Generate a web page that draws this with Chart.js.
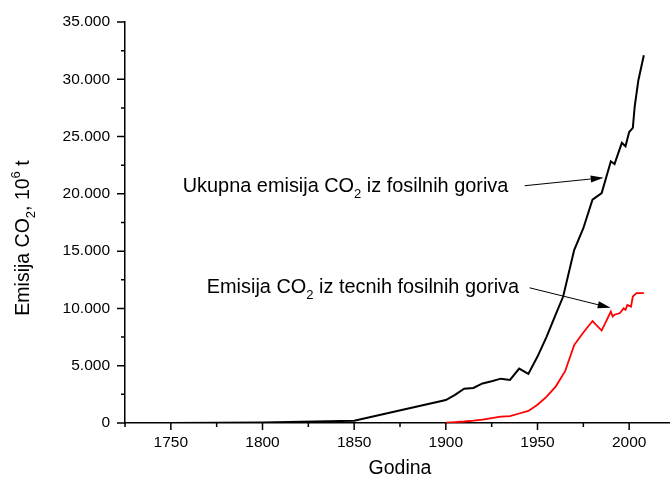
<!DOCTYPE html>
<html>
<head>
<meta charset="utf-8">
<script src="https://cdn.jsdelivr.net/npm/chart.js@4"></script>
<style>
  html,body{margin:0;padding:0;background:#fff;overflow:hidden;}
  #wrap{width:680px;height:481px;}
</style>
</head>
<body>
<div id="wrap"><canvas id="co2"></canvas></div>
<script>
// ukupna emisija (sva fosilna goriva), 10^6 t
const totalYears=[1750,1800,1850,1900,1905,1910,1915,1920,1925,1930,1935,1940,1945,1950,1955,1960,1964,1970,1975,1980,1985,1990,1992,1996,1998,2000,2002,2003,2005,2008];
const totalVals =[3,40,200,2000,2450,3000,3060,3450,3640,3870,3760,4750,4280,5800,7540,9500,11040,15100,17000,19500,20070,22840,22600,24450,24150,25400,25760,27600,29900,32100];

// tecna goriva
const liquidYears=[1900,1905,1910,1915,1920,1925,1930,1935,1940,1945,1950,1955,1960,1965,1970,1975,1980,1985,1990,1991,1992,1995,1997,1998,1999,2001,2002,2004,2008];
const liquidVals =[20,80,130,200,300,430,550,600,830,1050,1600,2300,3200,4500,6800,7900,8900,8070,9730,9300,9450,9600,10020,9880,10300,10160,11040,11340,11340];

const yearTicks=[1750,1800,1850,1900,1950,2000];
const valueTicks=[0,5000,10000,15000,20000,25000,30000,35000];

// natpisi sa strelicama (koordinate u jedinicama podataka)
const notes=[
  {parts:[["Ukupna emisija CO"],["2","sub"],[" iz fosilnih goriva"]], at:[1756.5,20190], from:[1943,20710], to:[1986.1,21410]},
  {parts:[["Emisija CO"],["2","sub"],[" iz tecnih fosilnih goriva"]], at:[1769.6,11360], from:[1945.7,11800], to:[1989.9,10050]}
];

const FONT="'Liberation Sans', Arial, sans-serif";
const fmt=v=>v===0?"0":(v/1000)+".000";

function richWidth(ctx,parts,size){
  let w=0;
  parts.forEach(([t,k])=>{ctx.font=(k?Math.round(size*0.65):size)+"px "+FONT; w+=ctx.measureText(t).width;});
  return w;
}
function drawRich(ctx,parts,x,y,size){
  parts.forEach(([t,k])=>{
    const s=k?Math.round(size*0.65):size;
    ctx.font=s+"px "+FONT;
    const dy=k==="sub"?size*0.32:k==="sup"?-size*0.42:0;
    ctx.fillText(t,x,y+dy);
    x+=ctx.measureText(t).width;
  });
}

const decor={
  id:"decor",
  afterDraw(chart){
    const {ctx,chartArea:a,scales:{x,y}}=chart;
    ctx.save();
    ctx.strokeStyle="#000";ctx.fillStyle="#000";ctx.lineWidth=1.5;
    ctx.beginPath();
    for(let v=1725;v<=2025;v+=25){
      const px=x.getPixelForValue(v), len=v%50===0?7:4;
      ctx.moveTo(px,a.bottom);ctx.lineTo(px,a.bottom+len);
    }
    for(let v=0;v<=35000;v+=2500){
      const py=y.getPixelForValue(v), len=v%5000===0?8:4;
      ctx.moveTo(a.left,py);ctx.lineTo(a.left-len,py);
    }
    ctx.stroke();

    // naslovi osa
    ctx.textBaseline="alphabetic";ctx.textAlign="left";
    ctx.font="19.5px "+FONT;
    const gw=ctx.measureText("Godina").width;
    ctx.fillText("Godina",(a.left+a.right)/2-gw/2,474);
    const yt=[["Emisija CO"],["2","sub"],[", 10"],["6","sup"],[" t"]];
    const yw=richWidth(ctx,yt,19.5);
    ctx.save();
    ctx.translate(28.5,238);ctx.rotate(-Math.PI/2);
    drawRich(ctx,yt,-yw/2,0,19.5);
    ctx.restore();

    // natpisi i strelice
    notes.forEach(n=>{
      drawRich(ctx,n.parts,x.getPixelForValue(n.at[0]),y.getPixelForValue(n.at[1]),19.9);
      const x0=x.getPixelForValue(n.from[0]),y0=y.getPixelForValue(n.from[1]);
      const x1=x.getPixelForValue(n.to[0]),y1=y.getPixelForValue(n.to[1]);
      const ang=Math.atan2(y1-y0,x1-x0),L=13,W=3.5;
      const bx=x1-L*Math.cos(ang),by=y1-L*Math.sin(ang);
      ctx.lineWidth=1;
      ctx.beginPath();ctx.moveTo(x0,y0);ctx.lineTo(bx,by);ctx.stroke();
      ctx.beginPath();
      ctx.moveTo(x1,y1);
      ctx.lineTo(bx+W*Math.sin(ang),by-W*Math.cos(ang));
      ctx.lineTo(bx-W*Math.sin(ang),by+W*Math.cos(ang));
      ctx.closePath();ctx.fill();
    });
    ctx.restore();
  }
};

new Chart(document.getElementById("co2"),{
  type:"line",
  data:{
    datasets:[
      {data:totalYears.map((yr,i)=>({x:yr,y:totalVals[i]})),borderColor:"#000",borderWidth:2,pointRadius:0,tension:0},
      {data:liquidYears.map((yr,i)=>({x:yr,y:liquidVals[i]})),borderColor:"#ff0000",borderWidth:1.8,pointRadius:0,tension:0}
    ]
  },
  options:{
    responsive:true,maintainAspectRatio:false,animation:false,
    layout:{padding:{top:22,right:5,left:0,bottom:0}},
    plugins:{legend:{display:false},tooltip:{enabled:false}},
    scales:{
      x:{
        type:"linear",min:1725,max:2025,
        afterBuildTicks:s=>{s.ticks=yearTicks.map(v=>({value:v}));},
        afterFit:s=>{s.height=58;},
        grid:{drawOnChartArea:false,drawTicks:true,tickLength:6,tickColor:"rgba(0,0,0,0)"},
        border:{display:true,color:"#000",width:1.5},
        ticks:{color:"#000",padding:4,maxRotation:0,font:{family:FONT,size:15.5},callback:v=>String(v)}
      },
      y:{
        min:0,max:35000,
        afterBuildTicks:s=>{s.ticks=valueTicks.map(v=>({value:v}));},
        afterFit:s=>{s.width=125;},
        grid:{drawOnChartArea:false,drawTicks:true,tickLength:8,tickColor:"rgba(0,0,0,0)"},
        border:{display:true,color:"#000",width:1.5},
        ticks:{color:"#000",padding:7,font:{family:FONT,size:15.5},callback:v=>fmt(v)}
      }
    }
  },
  plugins:[decor]
});
</script>
</body>
</html>
